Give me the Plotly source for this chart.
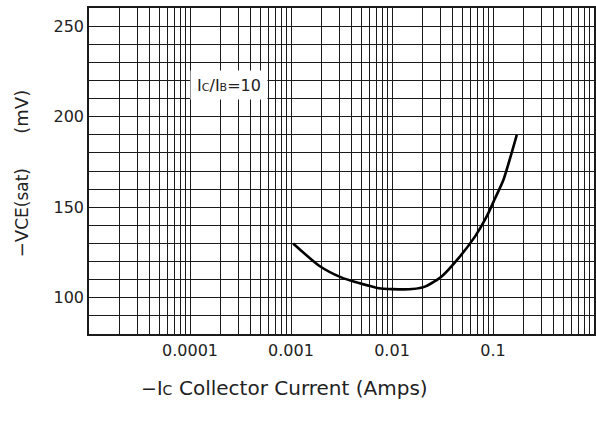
import numpy as np
import plotly.graph_objects as go

# Data
ic_amps = [0.00105, 0.0019, 0.0031, 0.0047, 0.0074, 0.010, 0.0158, 0.0215, 0.031, 0.0456, 0.0665, 0.0867, 0.105, 0.127, 0.172]
vce_mv = [130, 117.7, 111.4, 108.1, 105.3, 104.8, 104.8, 106.3, 111.8, 121.9, 133.9, 144.9, 155, 165.2, 190]

x_tickvals = [1e-4, 1e-3, 1e-2, 1e-1, 1]
x_ticktext = ["0.0001", "0.001", "0.01", "0.1", "1"]
y_tickvals = [100, 150, 200, 250]

decades = [1e-5, 1e-4, 1e-3, 1e-2, 1e-1]
x_minor = [d * k for d in decades for k in range(1, 10)]
y_minor = list(range(80, 261, 10))

W, H = 596, 433
ML, MR, MT, MB = 89, 0, 8, 99
PW, PH = W - ML - MR, H - MT - MB

GRID = "#1a1a1a"
FONT = "DejaVu Sans, Arial, sans-serif"
TXT = "#222"


def px_x(px):
    return (px - ML) / PW


def px_y(py):
    return (H - MB - py) / PH


fig = go.Figure()
fig.add_trace(go.Scatter(
    x=ic_amps, y=vce_mv, mode="lines",
    line=dict(color="black", width=2.6, shape="spline", smoothing=0.6),
    hoverinfo="skip", showlegend=False,
))

fig.update_layout(
    width=W, height=H,
    margin=dict(l=ML, r=MR, t=MT, b=MB),
    paper_bgcolor="white", plot_bgcolor="white",
    font=dict(family=FONT, size=16, color=TXT),
    showlegend=False,
    xaxis=dict(
        type="log", range=[-5, 0],
        tickmode="array", tickvals=x_tickvals, ticktext=x_ticktext,
        showgrid=True, gridcolor=GRID, gridwidth=1.3,
        ticks="", showline=True, linecolor=GRID, linewidth=1.5, mirror=True,
        minor=dict(tickmode="array", tickvals=x_minor, showgrid=True, gridcolor=GRID, gridwidth=1.3, ticks=""),
        tickfont=dict(family=FONT, size=16, color=TXT),
        ticklabelstandoff=1,
        zeroline=False,
    ),
    yaxis=dict(
        range=[80, 260],
        tickmode="array", tickvals=y_tickvals,
        showgrid=True, gridcolor=GRID, gridwidth=1.3,
        ticks="", showline=True, linecolor=GRID, linewidth=1.5, mirror=True,
        minor=dict(tickmode="array", tickvals=y_minor, showgrid=True, gridcolor=GRID, gridwidth=1.3, ticks=""),
        tickfont=dict(family=FONT, size=16, color=TXT),
        ticklabelstandoff=0,
        zeroline=False,
    ),
)

# Ic/Ib annotation with white background
fig.add_annotation(
    x=-3.609, y=217.7, xref="x", yref="y",
    text="I<span style='font-size:11px'>C</span>/I<span style='font-size:11px'>B</span>=10",
    showarrow=False, bgcolor="white", width=76, height=28, borderpad=0,
    xanchor="center", yanchor="middle",
    font=dict(family=FONT, size=16, color=TXT),
)

# Y axis title
gap = "&nbsp;" * 6
fig.add_annotation(
    xref="paper", yref="paper", x=px_x(22), y=px_y(174),
    xanchor="center", yanchor="middle",
    text="−V<span style='font-size:17px'>CE(sat)</span>" + gap + "(mV)",
    showarrow=False, textangle=-90,
    font=dict(family=FONT, size=18, color=TXT),
)

# X axis title (two parts)
fig.add_annotation(
    xref="paper", yref="paper", x=px_x(157), y=px_y(388),
    xanchor="center", yanchor="middle",
    text="−I<span style='font-size:14px'>C</span>",
    showarrow=False,
    font=dict(family=FONT, size=19, color=TXT),
)
fig.add_annotation(
    xref="paper", yref="paper", x=px_x(304), y=px_y(388),
    xanchor="center", yanchor="middle",
    text="Collector Current (Amps)",
    showarrow=False,
    font=dict(family=FONT, size=20, color=TXT),
)

fig.write_html(
    "out.html",
    config={"displayModeBar": False},
    post_script="document.body.style.margin='0';document.body.style.overflow='hidden';",
)
